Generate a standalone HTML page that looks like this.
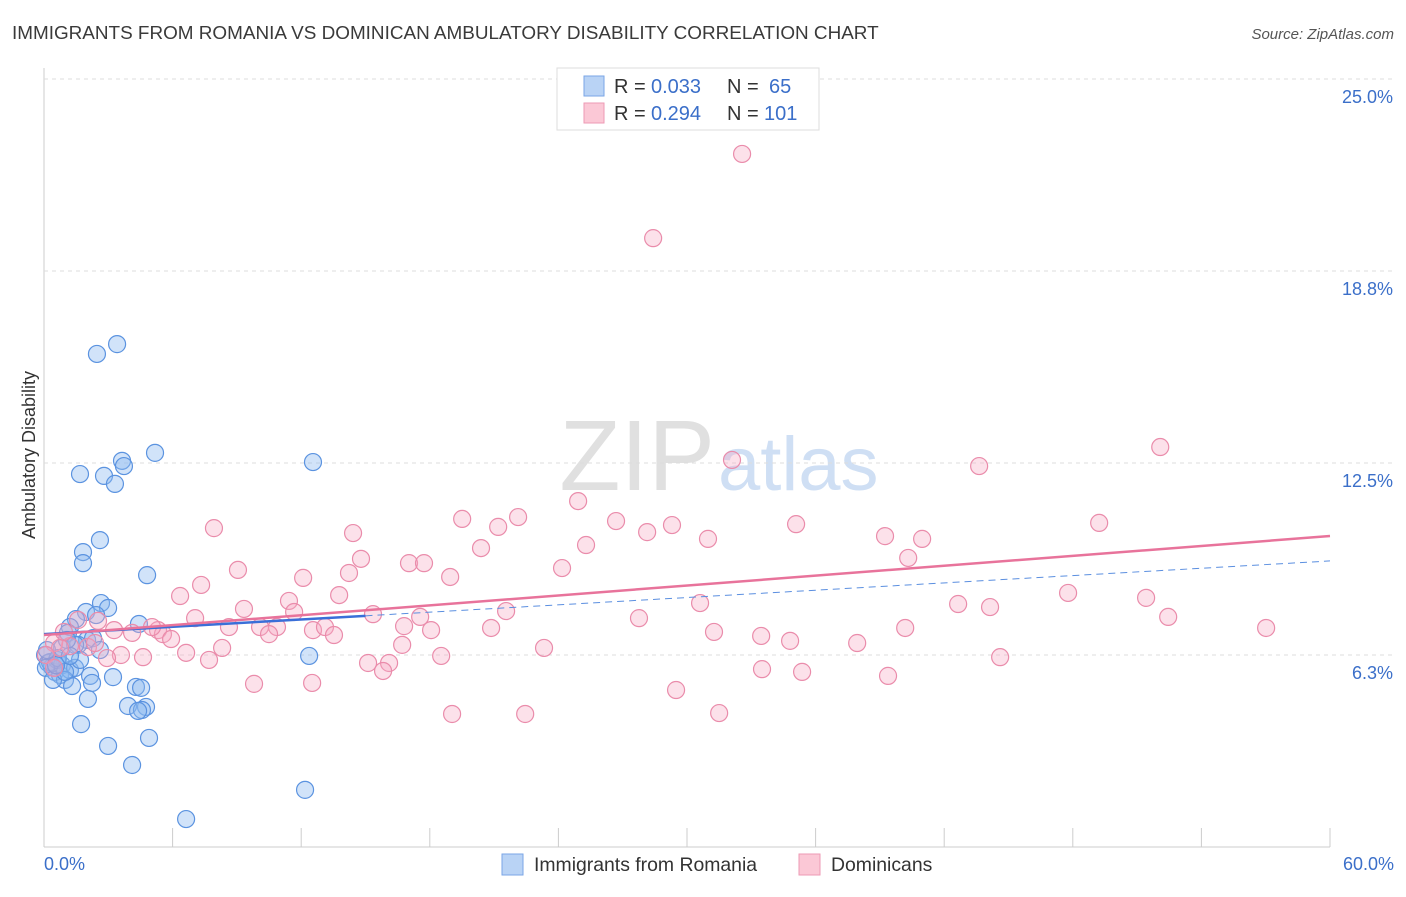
<!DOCTYPE html>
<html><head><meta charset="utf-8"><style>
body{margin:0;background:#fff;font-family:"Liberation Sans",sans-serif;}
svg text{font-family:"Liberation Sans",sans-serif;}
</style></head><body>
<svg id="c" width="1406" height="892">
<text x="12" y="39" font-size="18.9" fill="#3a3a3a">IMMIGRANTS FROM ROMANIA VS DOMINICAN AMBULATORY DISABILITY CORRELATION CHART</text>
<text x="1394" y="39" font-size="15" fill="#555" font-style="italic" text-anchor="end">Source: ZipAtlas.com</text>
<text x="715" y="490" font-size="100" fill="#e0e0e0" text-anchor="end" font-family="Liberation Serif">ZIP</text>
<text x="718" y="490" font-size="76" fill="#cfdff4">atlas</text>
<text transform="translate(35,455) rotate(-90)" font-size="18" fill="#333" text-anchor="middle">Ambulatory Disability</text>
<g id="grid"></g><g id="pts"></g><g id="lines"></g>
<text x="44" y="870" font-size="18" fill="#3b6fc9">0.0%</text>
<text x="1394" y="870" font-size="18" fill="#3b6fc9" text-anchor="end">60.0%</text>
<g>
<rect x="557" y="68" width="262" height="62" fill="#fff" stroke="#ddd"/>
<rect x="584" y="76" width="20" height="20" fill="#b9d3f5" stroke="#7aa6e6"/>
<rect x="584" y="103" width="20" height="20" fill="#fbc8d6" stroke="#ee9ab4"/>
<text x="614" y="93" font-size="20" fill="#333">R =</text>
<text x="651" y="93" font-size="20" fill="#3b6fc9">0.033</text>
<text x="727" y="93" font-size="20" fill="#333">N =</text>
<text x="769" y="93" font-size="20" fill="#3b6fc9">65</text>
<text x="614" y="120" font-size="20" fill="#333">R =</text>
<text x="651" y="120" font-size="20" fill="#3b6fc9">0.294</text>
<text x="727" y="120" font-size="20" fill="#333">N =</text>
<text x="764" y="120" font-size="20" fill="#3b6fc9">101</text>
</g>
<g>
<rect x="502" y="854" width="21" height="21" fill="#b9d3f5" stroke="#7aa6e6"/>
<text x="534" y="871" font-size="19.4" fill="#333">Immigrants from Romania</text>
<rect x="799" y="854" width="21" height="21" fill="#fbc8d6" stroke="#ee9ab4"/>
<text x="831" y="871" font-size="19.4" fill="#333">Dominicans</text>
</g>
</svg>
<script>
const yTicks=[25,18.75,12.5,6.25];
const yTickLabels=["25.0%","18.8%","12.5%","6.3%"];
const xTicks=[0,6,12,18,24,30,36,42,48,54,60];
const blueX=[2.47,3.41,1.68,2.80,3.31,3.64,3.73,5.18,12.55,2.61,1.82,1.82,4.81,2.66,2.99,1.96,1.49,2.43,1.21,1.12,2.01,2.29,1.59,4.43,0.05,0.19,0.37,0.51,0.75,0.28,0.84,1.21,1.45,0.98,1.31,2.15,2.24,3.22,4.29,4.53,3.92,4.76,4.57,4.39,2.05,1.73,2.99,4.90,4.11,12.37,12.18,6.63,0.61,0.09,0.42,0.84,1.45,1.07,0.65,0.98,0.14,0.56,2.61,1.68,1.21];
const blueY=[16.05,16.37,12.14,12.08,11.82,12.57,12.40,12.83,12.53,9.99,9.60,9.24,8.85,7.94,7.78,7.65,7.42,7.55,7.16,6.97,6.74,6.80,6.58,7.26,6.25,5.99,5.86,5.70,5.60,6.02,5.92,5.76,5.83,5.44,5.24,5.57,5.34,5.53,5.21,5.18,4.59,4.56,4.46,4.43,4.82,4.00,3.29,3.55,2.67,6.22,1.86,0.91,6.09,5.83,5.44,6.48,6.58,6.74,6.15,5.70,6.41,5.92,6.41,6.09,6.22];
const pinkX=[32.57,28.42,52.08,43.63,32.10,24.92,19.51,22.12,21.19,26.69,29.30,28.14,35.09,49.23,39.24,40.97,30.98,20.39,25.29,7.93,14.42,14.79,17.03,17.73,24.17,40.32,9.05,14.23,12.09,18.95,7.33,6.35,13.77,11.43,9.33,7.05,11.67,15.35,17.55,21.56,30.61,42.65,44.14,47.78,51.42,52.45,57.02,27.76,8.63,10.08,10.87,12.55,13.11,13.53,5.32,5.55,4.11,5.04,3.27,5.93,16.80,20.86,18.06,31.26,33.46,40.18,34.81,37.94,10.50,2.05,2.38,1.21,0.47,0.75,0.09,3.59,4.62,2.94,6.63,7.70,8.31,16.71,18.53,23.33,44.61,33.50,35.37,15.12,16.10,15.82,39.38,12.51,9.80,29.49,19.04,22.45,31.50,0.93,1.59,2.52,0.47];
const pinkY=[22.56,19.82,13.02,12.40,12.60,11.26,10.68,10.74,10.42,10.61,10.48,10.25,10.51,10.55,10.12,10.03,10.03,9.73,9.83,10.38,10.22,9.38,9.24,9.24,9.08,9.41,9.02,8.92,8.76,8.79,8.53,8.17,8.20,8.01,7.75,7.45,7.65,7.58,7.49,7.68,7.94,7.91,7.81,8.27,8.11,7.49,7.13,7.45,7.16,7.16,7.16,7.06,7.16,6.90,7.06,6.93,6.97,7.16,7.06,6.77,7.19,7.13,7.06,7.00,6.87,7.13,6.71,6.64,6.93,6.51,6.64,6.54,6.64,6.48,6.25,6.25,6.18,6.15,6.32,6.09,6.48,6.58,6.22,6.48,6.18,5.79,5.70,5.99,5.99,5.73,5.57,5.34,5.31,5.11,4.33,4.33,4.36,7.00,7.39,7.36,5.83];
const blueTrend=[6.93,0.0397];
const pinkTrend=[6.90,0.0537];
const X=v=>44+v*1286/60, Y=v=>847-v*30.72;
const NS="http://www.w3.org/2000/svg";
function mk(tag,attrs,parent){const e=document.createElementNS(NS,tag);for(const k in attrs)e.setAttribute(k,attrs[k]);document.getElementById(parent).appendChild(e);return e;}
let ax=mk('line',{x1:44,y1:68,x2:44,y2:847,stroke:'#ccc'},'grid');


let bx=mk('line',{x1:44,y1:847,x2:1330,y2:847,stroke:'#ccc'},'grid');


yTicks.forEach((t,i)=>{
 const g=mk('line',{x1:44,y1:Y(t),x2:1394,y2:Y(t),stroke:'#ddd','stroke-dasharray':'4,4'},'grid');
 
 
 const l=mk('text',{x:1393,y:Y(t)+24,'font-size':18,fill:'#3b6fc9','text-anchor':'end'},'grid');
 l.textContent=yTickLabels[i];
 
 
});
xTicks.forEach(t=>{
 const g=mk('line',{x1:X(t),y1:828,x2:X(t),y2:847,stroke:'#ccc'},'grid');
 
 
});
blueX.forEach((x,i)=>{
 const c=mk('circle',{cx:X(x),cy:Y(blueY[i]),r:8.5,fill:'rgba(140,185,240,0.4)',stroke:'#5b93e0','stroke-width':1.2},'pts');
 
 
});
pinkX.forEach((x,i)=>{
 const c=mk('circle',{cx:X(x),cy:Y(pinkY[i]),r:8.5,fill:'rgba(246,170,195,0.35)',stroke:'#ea8cab','stroke-width':1.2},'pts');
 
 
});
const bl=mk('line',{x1:X(0),y1:Y(blueTrend[0]),x2:X(15),y2:Y(blueTrend[0]+15*blueTrend[1]),stroke:'#3a6fd8','stroke-width':2.5},'lines');


const bd=mk('line',{x1:X(15),y1:Y(blueTrend[0]+15*blueTrend[1]),x2:X(60),y2:Y(blueTrend[0]+60*blueTrend[1]),stroke:'#5b8fe0','stroke-width':1,'stroke-dasharray':'7,5'},'lines');


const pl=mk('line',{x1:X(0),y1:Y(pinkTrend[0]),x2:X(60),y2:Y(pinkTrend[0]+60*pinkTrend[1]),stroke:'#e8739b','stroke-width':2.5},'lines');


</script>
</body></html>
